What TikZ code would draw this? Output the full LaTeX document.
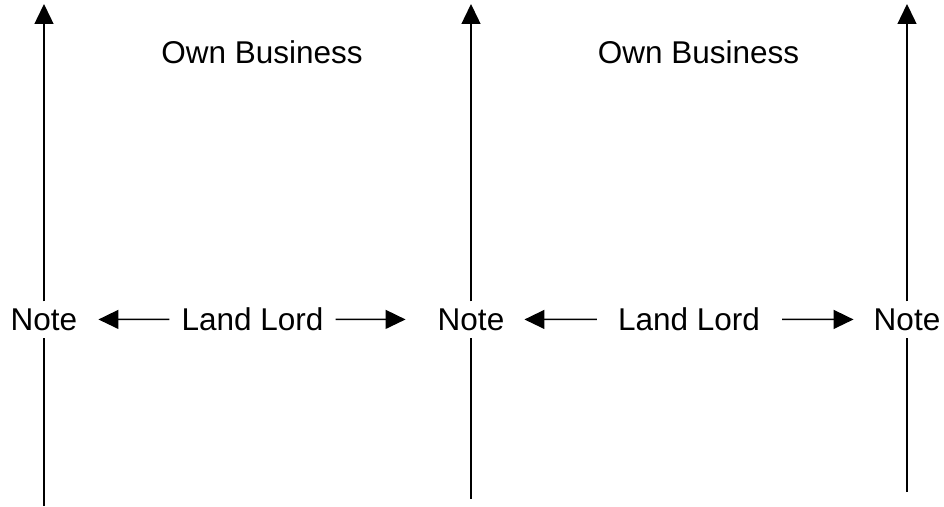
\documentclass[tikz,border=0pt]{standalone}
\usepackage{fontspec}
\setmainfont{Liberation Sans}
\usetikzlibrary{arrows.meta}
\begin{document}
\begin{tikzpicture}[x=1pt,y=1pt,
  arr/.style={line width=1.4pt,-{Triangle[length=20pt,width=19pt]}},
  lbl/.style={inner xsep=0pt,inner ysep=0pt,font=\fontsize{31.5}{38}\selectfont},
  notebox/.style={lbl,fill=white,inner ysep=6.9pt}]
\useasboundingbox (0,0) rectangle (944,506);
% labels
\node[notebox] (N1) at (44,186.5) {Note};
\node[notebox] (N2) at (471,186.5) {Note};
\node[notebox] (N3) at (907,186.5) {Note};
\node[lbl] (LL1) at (252.5,186.7) {Land Lord};
\node[lbl] (LL2) at (689,186.7) {Land Lord};
\node[lbl] (OB1) at (262,453.5) {Own Business};
\node[lbl] (OB2) at (698.5,453.5) {Own Business};
% vertical ends
\coordinate (b1) at (44,0);
\coordinate (t1) at (44,502);
\coordinate (b2) at (471,7.5);
\coordinate (t2) at (471,502);
\coordinate (b3) at (907,14);
\coordinate (t3) at (907,502);
% vertical lines
\draw[line width=1.4pt] (b1) -- (N1.south);
\draw[arr] (N1.north) -- (t1);
\draw[line width=1.4pt] (b2) -- (N2.south);
\draw[arr] (N2.north) -- (t2);
\draw[line width=1.4pt] (b3) -- (N3.south);
\draw[arr] (N3.north) -- (t3);
% horizontal arrows
\draw[arr,shorten <=12pt,shorten >=21pt] (LL1.west) -- (N1.east);
\draw[arr,shorten <=12pt,shorten >=32pt] (LL1.east) -- (N2.west);
\draw[arr,shorten <=21pt,shorten >=20pt] (LL2.west) -- (N2.east);
\draw[arr,shorten <=22pt,shorten >=20pt] (LL2.east) -- (N3.west);
\end{tikzpicture}
\end{document}
